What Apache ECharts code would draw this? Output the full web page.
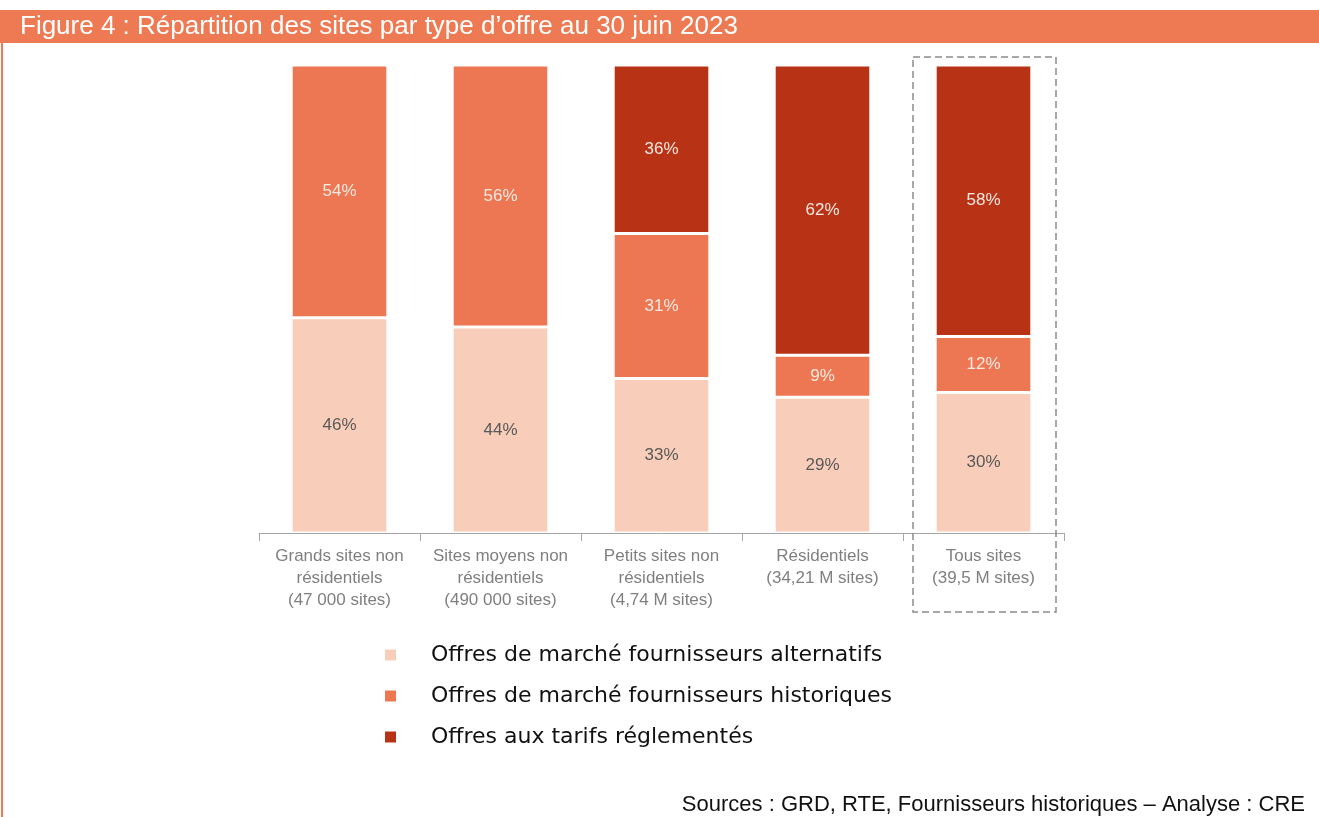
<!DOCTYPE html>
<html><head><meta charset="utf-8">
<script src="https://cdn.jsdelivr.net/npm/echarts@6/dist/echarts.min.js"></script>
<style>html,body{margin:0;padding:0;background:#fff;}#c{width:1319px;height:817px;}</style>
</head><body><div id="c"></div>
<script>
const categories = [
  "Grands sites non\nrésidentiels\n(47 000 sites)",
  "Sites moyens non\nrésidentiels\n(490 000 sites)",
  "Petits sites non\nrésidentiels\n(4,74 M sites)",
  "Résidentiels\n(34,21 M sites)",
  "Tous sites\n(39,5 M sites)"
];
const seriesNames = [
  "Offres de marché fournisseurs alternatifs",
  "Offres de marché fournisseurs historiques",
  "Offres aux tarifs réglementés"
];
const alternatifs = [46, 44, 33, 29, 30];
const historiques = [54, 56, 31, 9, 12];
const reglementes = [0, 0, 36, 62, 58];
const titleText = "Figure 4 : Répartition des sites par type d’offre au 30 juin 2023";
const sourceText = "Sources : GRD, RTE, Fournisseurs historiques – Analyse : CRE";

const colors = ["#F8CDB9", "#EC7752", "#B83216"];
const labelColors = ["#595959", "#FBE9E1", "#FBE9E1"];
const sans = "'Liberation Sans', Arial, sans-serif";

const chart = echarts.init(document.getElementById('c'));
function mk(i, data) {
  return {
    name: seriesNames[i], type: 'bar', stack: 's', data: data,
    barCategoryGap: '40%',
    itemStyle: { color: colors[i], borderColor: '#fff', borderWidth: 1.5 },
    label: { show: true, position: 'inside', formatter: p => p.value > 0 ? p.value + '%' : '',
             color: labelColors[i], fontSize: 17, fontFamily: sans },
    emphasis: { disabled: true }
  };
}
const option = {
  animation: false,
  color: colors,
  grid: { left: 259, right: 255, top: 65, bottom: 284 },
  xAxis: {
    type: 'category', data: categories,
    axisLine: { lineStyle: { color: '#A6A6A6', width: 1 } },
    axisTick: { show: true, length: 8, alignWithLabel: false, lineStyle: { color: '#A6A6A6' } },
    axisLabel: { color: '#7F7F7F', fontSize: 17, lineHeight: 22, margin: 12, fontFamily: sans, interval: 0 }
  },
  yAxis: { type: 'value', min: 0, max: 100, show: false },
  legend: {
    orient: 'vertical', left: 383, top: 644, padding: 0, itemWidth: 13, itemHeight: 13, itemGap: 19,
    icon: 'rect', data: seriesNames,
    textStyle: { fontSize: 22, color: '#111', fontFamily: "'DejaVu Sans', sans-serif", padding: [0, 0, 0, 29] },
    selectedMode: false
  },
  series: [mk(0, alternatifs), mk(1, historiques), mk(2, reglementes)],
  graphic: [
    { type: 'rect', left: 0, top: 10, shape: { width: 1319, height: 33 }, style: { fill: '#EE7A54' }, silent: true },
    { type: 'rect', left: 1, top: 43, shape: { width: 2, height: 774 }, style: { fill: '#EE7A54' }, silent: true },
    { type: 'text', left: 20, top: 14, style: { text: titleText, fill: '#fff', fontSize: 26, fontFamily: sans } },
    { type: 'text', right: 14, bottom: 1, style: { text: sourceText, fill: '#111', fontSize: 22, fontFamily: sans } }
  ]
};
chart.setOption(option);
// dashed box around the last category, positioned from the axis scale
const cx = chart.convertToPixel({ xAxisIndex: 0 }, categories[4]);
const ytop = chart.convertToPixel({ yAxisIndex: 0 }, 100);
const half = 71.5;
chart.setOption({ graphic: option.graphic.concat([{
  type: 'rect', shape: { x: cx - half + 1, y: ytop - 8, width: half * 2, height: 612 - (ytop - 8) },
  style: { fill: 'none', stroke: '#8C8C8C', lineWidth: 1.5, lineDash: [7, 4] }, silent: true, z: 10
}]) });
</script></body></html>
